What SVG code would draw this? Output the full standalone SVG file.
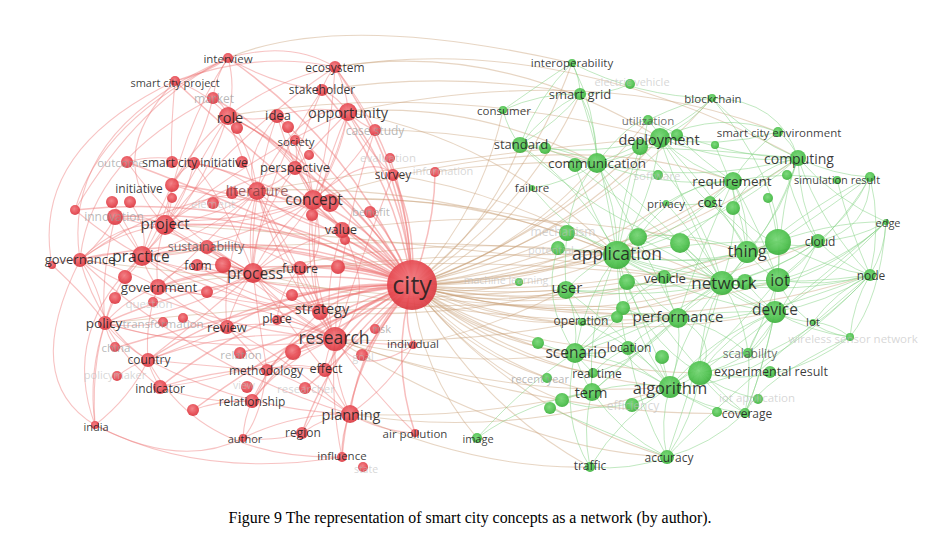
<svg xmlns="http://www.w3.org/2000/svg" width="925" height="547" viewBox="0 0 925 547">
<defs>
<radialGradient id="gr" cx="45%" cy="40%" r="60%"><stop offset="0" stop-color="#f27a80"/><stop offset="0.7" stop-color="#e5474f"/><stop offset="1" stop-color="#d83a42"/></radialGradient>
<radialGradient id="gg" cx="45%" cy="40%" r="60%"><stop offset="0" stop-color="#74d674"/><stop offset="0.7" stop-color="#4cc04c"/><stop offset="1" stop-color="#3cae3c"/></radialGradient>
<style>
text{font-family:"Open Sans","DejaVu Sans",sans-serif;text-anchor:middle;dominant-baseline:central;font-size:11.5px}
.r{fill:url(#gr);opacity:.92}
.g{fill:url(#gg);opacity:.92}
.t{fill:#1e1e1e;fill-opacity:.88}
.m{fill:#555;fill-opacity:.85}
.f{fill:#999;fill-opacity:.7}
.ff{fill:#bbb;fill-opacity:.6}
.lit{fill:#7a3a3a;fill-opacity:.75}
#er path{fill:none;stroke:#ee7a7a;stroke-opacity:.45;stroke-width:1.1}
#erc path{fill:none;stroke:#ee6e6e;stroke-opacity:.45;stroke-width:1.5}
#eg path{fill:none;stroke:#86d286;stroke-opacity:.52;stroke-width:1}
#ex path{fill:none;stroke:#c9a27a;stroke-opacity:.45;stroke-width:1.1}
.cap{font-family:"Liberation Serif","Times New Roman",serif;font-size:15.9px;fill:#000;text-anchor:middle;dominant-baseline:auto}
</style>
</defs>
<rect width="925" height="547" fill="#fff"/>
<g id="connectors">
<g id="ex">
<path d="M412 285Q518 299 617 255"/><path d="M412 285Q565 331 722 283"/><path d="M412 285Q584 318 747 252"/><path d="M412 285Q595 337 778 280"/><path d="M412 285Q588 352 775 312"/><path d="M412 285Q524 375 670 387"/><path d="M412 285Q539 340 678 318"/><path d="M412 285Q483 343 575 353"/><path d="M412 285Q521 251 597 163"/><path d="M412 285Q556 249 660 138"/><path d="M412 285Q623 280 798 158"/><path d="M412 285Q586 282 733 181"/><path d="M412 285Q488 310 566 290"/><path d="M412 285Q484 365 592 392"/><path d="M412 285Q538 320 664 277"/><path d="M412 285Q486 232 520 145"/><path d="M412 285Q485 254 532 188"/><path d="M412 285Q572 288 710 202"/><path d="M412 285Q620 325 818 241"/><path d="M412 285Q420 371 477 438"/><path d="M412 285Q473 402 590 467"/><path d="M412 285Q512 410 667 457"/><path d="M412 285Q482 211 503 110"/><path d="M412 285Q524 197 572 63"/><path d="M412 285Q524 215 580 94"/><path d="M412 285Q491 328 582 322"/><path d="M412 285Q511 349 628 348"/><path d="M412 285Q550 282 666 203"/><path d="M412 285Q642 348 870 275"/><path d="M412 285Q541 372 700 373"/><path d="M412 285Q464 298 519 282"/><path d="M412 285Q489 357 593 373"/><path d="M412 285Q589 237 712 98"/><path d="M412 285Q464 352 547 378"/><path d="M412 285Q554 238 648 120"/><path d="M412 285Q530 270 638 237"/><path d="M412 285Q550 275 680 243"/><path d="M412 285Q600 300 778 242"/><path d="M412 285Q520 300 627 282"/><path d="M412 285Q500 265 567 233"/><path d="M412 285Q490 275 558 248"/><path d="M412 285Q480 370 562 400"/><path d="M412 285Q470 330 538 343"/><path d="M412 285Q540 240 640 147"/>
<path d="M335 67Q500 40 660 138"/><path d="M348 112Q470 100 597 163"/><path d="M348 112Q500 140 617 255"/><path d="M313 200Q470 190 617 255"/><path d="M313 200Q520 190 722 283"/><path d="M257 191Q440 180 617 255"/><path d="M335 339Q530 350 722 283"/><path d="M335 339Q500 400 670 387"/><path d="M335 339Q460 370 575 353"/><path d="M253 273Q440 230 617 255"/><path d="M253 273Q480 250 722 283"/><path d="M320 312Q450 320 566 290"/><path d="M350 414Q510 440 670 387"/><path d="M350 414Q470 420 592 392"/><path d="M375 130Q480 130 597 163"/><path d="M393 175Q500 190 617 255"/><path d="M322 90Q450 70 580 94"/><path d="M228 116Q440 80 660 138"/><path d="M342 230Q540 200 747 252"/><path d="M142 256Q380 230 617 255"/><path d="M165 225Q440 240 722 283"/><path d="M413 345Q490 330 566 290"/><path d="M80 260Q400 300 678 318"/><path d="M435 172Q515 160 597 163"/><path d="M158 287Q390 250 617 255"/><path d="M105 323Q340 300 566 290"/><path d="M335 67Q560 30 798 158"/><path d="M348 112Q600 60 778 132"/><path d="M335 339Q520 450 667 457"/><path d="M350 414Q480 470 590 467"/><path d="M335 339Q560 420 745 413"/><path d="M253 273Q500 330 678 318"/><path d="M228 58Q340 10 572 63"/><path d="M313 200Q560 120 733 181"/><path d="M257 191Q500 150 660 138"/><path d="M320 312Q500 300 622 308"/>
</g>
<g id="er">
<path d="M142 256Q157 241 165 225"/><path d="M142 256Q110 249 80 260"/><path d="M142 256Q146 272 158 287"/><path d="M142 256Q115 283 105 323"/><path d="M142 256Q196 276 253 273"/><path d="M142 256Q207 235 257 191"/><path d="M142 256Q234 246 313 200"/><path d="M142 256Q124 231 115 217"/><path d="M142 256Q165 222 172 185"/><path d="M142 256Q175 257 207 247"/><path d="M165 225Q173 204 172 185"/><path d="M165 225Q139 213 115 217"/><path d="M165 225Q187 196 194 163"/><path d="M165 225Q215 218 257 191"/><path d="M165 225Q242 229 313 200"/><path d="M165 225Q204 259 253 273"/><path d="M165 225Q118 231 80 260"/><path d="M165 225Q154 254 158 287"/><path d="M257 191Q284 201 313 200"/><path d="M257 191Q252 150 228 116"/><path d="M257 191Q279 184 295 168"/><path d="M257 191Q246 231 253 273"/><path d="M257 191Q278 272 335 339"/><path d="M257 191Q229 168 194 163"/><path d="M313 200Q341 159 348 112"/><path d="M313 200Q308 181 295 168"/><path d="M313 200Q324 216 342 230"/><path d="M313 200Q275 228 253 273"/><path d="M313 200Q307 270 335 339"/><path d="M313 200Q303 255 320 312"/><path d="M313 200Q311 167 295 141"/><path d="M313 200Q305 153 277 116"/><path d="M253 273Q283 299 320 312"/><path d="M253 273Q287 314 335 339"/><path d="M253 273Q278 275 300 268"/><path d="M253 273Q235 296 227 327"/><path d="M253 273Q205 267 158 287"/><path d="M253 273Q226 262 197 265"/><path d="M335 339Q324 321 320 312"/><path d="M335 339Q296 345 267 370"/><path d="M335 339Q326 350 325 370"/><path d="M335 339Q333 376 350 414"/><path d="M335 339Q280 318 227 327"/><path d="M335 339Q286 358 252 401"/><path d="M335 339Q304 321 277 320"/><path d="M335 339Q239 325 148 360"/><path d="M158 287Q127 298 105 323"/><path d="M158 287Q145 321 148 360"/><path d="M158 287Q116 263 80 260"/><path d="M105 323Q123 345 148 360"/><path d="M105 323Q107 336 115 347"/><path d="M105 323Q134 329 163 322"/><path d="M105 323Q88 373 95 425"/><path d="M105 323Q125 361 160 387"/><path d="M105 323Q100 287 80 260"/><path d="M148 360Q151 373 160 387"/><path d="M160 387Q205 404 252 401"/><path d="M350 414Q324 417 302 433"/><path d="M350 414Q341 434 342 457"/><path d="M350 414Q380 431 415 433"/><path d="M350 414Q332 387 325 370"/><path d="M350 414Q303 381 267 370"/><path d="M350 414Q294 413 243 438"/><path d="M350 414Q390 386 413 345"/><path d="M252 401Q244 418 243 438"/><path d="M252 401Q263 387 267 370"/><path d="M348 112Q347 88 335 67"/><path d="M348 112Q338 97 322 90"/><path d="M348 112Q313 105 277 116"/><path d="M348 112Q360 124 375 130"/><path d="M348 112Q364 148 393 175"/><path d="M228 116Q236 86 228 58"/><path d="M228 116Q224 104 213 98"/><path d="M228 116Q253 122 277 116"/><path d="M228 116Q206 92 175 81"/><path d="M228 58Q216 75 213 98"/><path d="M228 58Q271 84 322 90"/><path d="M335 67Q326 77 322 90"/><path d="M335 67Q277 79 228 116"/><path d="M194 163Q159 153 127 162"/><path d="M194 163Q180 169 172 185"/><path d="M80 260Q103 241 115 217"/><path d="M80 260Q66 259 52 265"/><path d="M295 168Q298 154 295 141"/><path d="M295 168Q269 134 228 116"/><path d="M175 81Q204 75 228 58"/><path d="M325 370Q295 361 267 370"/><path d="M95 425Q130 398 148 360"/><path d="M243 438Q274 442 302 433"/><path d="M80 260Q198 328 335 339"/><path d="M105 323Q218 357 335 339"/><path d="M115 217Q216 230 313 200"/><path d="M105 323Q186 315 253 273"/><path d="M172 185Q241 207 313 200"/><path d="M80 260Q197 368 350 414"/><path d="M148 360Q243 410 350 414"/><path d="M127 162Q177 232 253 273"/><path d="M75 210Q110 240 142 256"/><path d="M52 265Q90 300 105 323"/><path d="M130 202Q150 230 142 256"/><path d="M112 202Q130 230 142 256"/><path d="M125 277Q135 270 142 256"/><path d="M223 265Q240 268 253 273"/><path d="M207 292Q230 285 253 273"/><path d="M183 318Q200 330 227 327"/><path d="M232 193Q245 190 257 191"/><path d="M312 215Q320 210 313 200"/><path d="M293 352Q310 345 335 339"/><path d="M193 410Q220 400 252 401"/><path d="M117 377Q130 365 148 360"/><path d="M228 116Q190 150 172 185"/><path d="M213 98Q200 150 172 185"/><path d="M175 81Q170 140 172 162"/><path d="M228 58Q180 130 165 225"/><path d="M335 67Q240 130 165 225"/><path d="M322 90Q260 180 253 273"/><path d="M348 112Q300 220 320 312"/><path d="M375 130Q340 230 335 339"/><path d="M393 175Q360 260 335 339"/><path d="M228 116Q260 220 335 339"/><path d="M277 116Q250 190 253 273"/><path d="M80 260Q60 130 228 58"/><path d="M80 260Q90 160 213 98"/><path d="M75 210Q140 100 228 58"/><path d="M95 425Q90 350 115 298"/>
<path d="M142 256Q200 300 227 327"/><path d="M142 256Q220 300 320 312"/><path d="M142 256Q240 290 335 339"/><path d="M165 225Q240 270 320 312"/><path d="M165 225Q200 160 228 116"/><path d="M165 225Q260 150 348 112"/><path d="M165 225Q230 180 295 168"/><path d="M165 225Q250 240 300 268"/><path d="M257 191Q300 230 342 230"/><path d="M257 191Q300 100 348 112"/><path d="M257 191Q220 260 227 327"/><path d="M257 191Q290 250 320 312"/><path d="M313 200Q330 150 335 67"/><path d="M313 200Q330 260 300 268"/><path d="M313 200Q370 150 393 175"/><path d="M313 200Q350 170 375 130"/><path d="M253 273Q300 240 342 230"/><path d="M253 273Q260 330 267 370"/><path d="M253 273Q300 340 325 370"/><path d="M253 273Q200 320 148 360"/><path d="M253 273Q180 230 115 217"/><path d="M335 339Q380 300 342 230"/><path d="M335 339Q260 290 207 247"/><path d="M335 339Q250 300 158 287"/><path d="M335 339Q230 380 160 387"/><path d="M335 339Q360 380 413 345"/><path d="M320 312Q290 290 300 268"/><path d="M320 312Q270 360 252 401"/><path d="M320 312Q250 300 197 265"/><path d="M158 287Q200 250 257 191"/><path d="M158 287Q200 320 227 327"/><path d="M158 287Q230 300 320 312"/><path d="M105 323Q190 350 227 327"/><path d="M80 260Q160 200 257 191"/><path d="M80 260Q120 220 165 225"/><path d="M80 260Q100 330 148 360"/><path d="M148 360Q200 340 227 327"/><path d="M148 360Q250 370 267 370"/><path d="M160 387Q250 360 325 370"/><path d="M350 414Q290 360 227 327"/><path d="M295 168Q330 130 348 112"/><path d="M295 168Q320 200 342 230"/><path d="M295 168Q250 230 253 273"/><path d="M228 116Q200 200 142 256"/><path d="M228 116Q300 150 313 200"/><path d="M277 116Q290 160 313 200"/><path d="M277 116Q240 160 257 191"/><path d="M322 90Q300 140 295 168"/><path d="M335 67Q360 100 375 130"/><path d="M194 163Q230 210 253 273"/><path d="M172 185Q150 230 142 256"/><path d="M115 217Q100 280 105 323"/><path d="M342 230Q320 300 335 339"/><path d="M300 268Q320 300 335 339"/><path d="M300 268Q280 290 277 320"/><path d="M207 247Q230 260 253 273"/><path d="M197 265Q170 270 158 287"/><path d="M227 327Q250 350 267 370"/><path d="M267 370Q260 420 243 438"/><path d="M302 433Q330 390 335 339"/><path d="M342 457Q330 400 335 339"/><path d="M415 433Q370 390 335 339"/><path d="M413 345Q380 345 335 339"/><path d="M80 260Q20 380 95 425"/><path d="M52 265Q30 150 175 81"/><path d="M75 210Q100 120 228 58"/><path d="M95 425Q180 470 243 438"/><path d="M95 425Q200 480 342 457"/><path d="M148 360Q200 460 342 457"/><path d="M228 58Q290 40 335 67"/><path d="M175 81Q260 50 335 67"/><path d="M142 256Q60 330 95 425"/><path d="M165 225Q100 160 175 81"/><path d="M253 273Q330 200 348 112"/>
</g>
<g id="erc">
<path d="M412 285Q364 299 335 339"/><path d="M412 285Q334 255 253 273"/><path d="M412 285Q374 227 313 200"/><path d="M412 285Q280 228 142 256"/><path d="M412 285Q296 217 165 225"/><path d="M412 285Q347 214 257 191"/><path d="M412 285Q360 284 320 312"/><path d="M412 285Q361 339 350 414"/><path d="M412 285Q405 189 348 112"/><path d="M412 285Q283 247 158 287"/><path d="M412 285Q344 173 228 116"/><path d="M412 285Q251 257 105 323"/><path d="M412 285Q248 222 80 260"/><path d="M412 285Q383 246 342 230"/><path d="M412 285Q369 209 295 168"/><path d="M412 285Q357 259 300 268"/><path d="M412 285Q312 278 227 327"/><path d="M412 285Q355 312 325 370"/><path d="M412 285Q268 282 148 360"/><path d="M412 285Q269 298 160 387"/><path d="M412 285Q314 319 252 401"/><path d="M412 285Q402 314 413 345"/><path d="M412 285Q333 342 302 433"/><path d="M412 285Q390 359 415 433"/><path d="M412 285Q272 205 115 217"/><path d="M412 285Q305 197 172 185"/><path d="M412 285Q404 165 335 67"/><path d="M412 285Q394 173 322 90"/><path d="M412 285Q417 227 393 175"/><path d="M412 285Q352 143 228 58"/><path d="M412 285Q324 306 267 370"/><path d="M412 285Q338 282 277 320"/><path d="M412 285Q314 235 207 247"/><path d="M412 285Q319 190 194 163"/><path d="M412 285Q350 360 342 457"/><path d="M412 285Q378 270 338 267"/><path d="M412 285Q350 285 292 295"/><path d="M412 285Q345 325 293 352"/><path d="M412 285Q380 330 362 355"/><path d="M412 285Q388 310 373 330"/><path d="M412 285Q385 255 345 240"/><path d="M412 285Q395 240 370 212"/><path d="M412 285Q410 200 375 130"/><path d="M412 285Q350 180 277 116"/><path d="M412 285Q410 215 390 158"/><path d="M412 285Q435 225 435 172"/><path d="M412 285Q270 190 75 210"/><path d="M412 285Q300 330 193 410"/><path d="M412 285Q240 310 115 348"/><path d="M412 285Q270 170 175 81"/><path d="M412 285Q290 140 213 98"/><path d="M412 285Q255 210 127 162"/><path d="M412 285Q300 300 197 265"/><path d="M412 285Q320 330 240 353"/><path d="M412 285Q340 360 305 388"/>
</g>
<g id="eg">
<path d="M617 255Q665 280 722 283"/><path d="M617 255Q683 267 747 252"/><path d="M617 255Q695 286 778 280"/><path d="M617 255Q689 300 775 312"/><path d="M617 255Q627 326 670 387"/><path d="M617 255Q640 292 678 318"/><path d="M617 255Q585 297 575 353"/><path d="M617 255Q618 206 597 163"/><path d="M617 255Q652 200 660 138"/><path d="M617 255Q719 227 798 158"/><path d="M617 255Q684 231 733 181"/><path d="M617 255Q588 264 566 290"/><path d="M617 255Q587 319 592 392"/><path d="M617 255Q638 272 664 277"/><path d="M617 255Q582 187 520 145"/><path d="M617 255Q719 271 818 241"/><path d="M617 255Q741 294 870 275"/><path d="M722 283Q738 270 747 252"/><path d="M722 283Q750 288 778 280"/><path d="M722 283Q745 303 775 312"/><path d="M722 283Q683 329 670 387"/><path d="M722 283Q695 294 678 318"/><path d="M722 283Q775 230 798 158"/><path d="M722 283Q739 233 733 181"/><path d="M722 283Q775 274 818 241"/><path d="M722 283Q797 296 870 275"/><path d="M722 283Q699 325 700 373"/><path d="M747 252Q760 269 778 280"/><path d="M747 252Q785 254 818 241"/><path d="M747 252Q785 210 798 158"/><path d="M747 252Q749 214 733 181"/><path d="M778 280Q773 295 775 312"/><path d="M778 280Q825 288 870 275"/><path d="M778 280Q804 265 818 241"/><path d="M778 280Q840 264 886 222"/><path d="M775 312Q793 321 813 322"/><path d="M775 312Q810 332 850 337"/><path d="M775 312Q827 303 870 275"/><path d="M775 312Q713 336 670 387"/><path d="M775 312Q756 328 748 353"/><path d="M775 312Q729 332 700 373"/><path d="M670 387Q685 384 700 373"/><path d="M670 387Q704 409 745 413"/><path d="M670 387Q659 422 667 457"/><path d="M670 387Q630 380 592 392"/><path d="M670 387Q682 352 678 318"/><path d="M670 387Q620 417 590 467"/><path d="M670 387Q619 357 575 353"/><path d="M678 318Q623 321 575 353"/><path d="M678 318Q650 326 628 348"/><path d="M678 318Q630 307 582 322"/><path d="M575 353Q579 372 592 392"/><path d="M575 353Q583 363 593 373"/><path d="M575 353Q603 355 628 348"/><path d="M575 353Q579 318 566 290"/><path d="M592 392Q621 434 667 457"/><path d="M592 392Q582 428 590 467"/><path d="M592 392Q528 401 477 438"/><path d="M667 457Q711 445 745 413"/><path d="M667 457Q693 419 700 373"/><path d="M597 163Q631 158 660 138"/><path d="M597 163Q557 145 520 145"/><path d="M597 163Q597 126 580 94"/><path d="M597 163Q596 110 572 63"/><path d="M597 163Q663 188 733 181"/><path d="M597 163Q699 185 798 158"/><path d="M660 138Q656 128 648 120"/><path d="M660 138Q691 124 712 98"/><path d="M660 138Q719 149 778 132"/><path d="M660 138Q727 165 798 158"/><path d="M660 138Q691 168 733 181"/><path d="M580 94Q580 78 572 63"/><path d="M580 94Q606 95 630 84"/><path d="M580 94Q540 93 503 110"/><path d="M580 94Q544 113 520 145"/><path d="M572 63Q638 97 712 98"/><path d="M572 63Q537 98 520 145"/><path d="M798 158Q792 142 778 132"/><path d="M798 158Q833 175 870 177"/><path d="M798 158Q835 200 886 222"/><path d="M798 158Q821 225 870 275"/><path d="M798 158Q799 202 818 241"/><path d="M733 181Q720 188 710 202"/><path d="M733 181Q697 183 666 203"/><path d="M818 241Q855 240 886 222"/><path d="M818 241Q840 264 870 275"/><path d="M870 275Q885 250 886 222"/><path d="M870 275Q836 291 813 322"/><path d="M870 275Q853 303 850 337"/><path d="M870 275Q882 225 870 177"/><path d="M700 373Q725 369 748 353"/><path d="M700 373Q717 399 745 413"/><path d="M566 290Q571 305 582 322"/><path d="M566 290Q617 295 664 277"/><path d="M664 277Q667 299 678 318"/><path d="M628 348Q609 356 593 373"/><path d="M532 188Q567 183 597 163"/><path d="M532 188Q567 231 617 255"/><path d="M503 110Q508 130 520 145"/><path d="M520 145Q591 158 660 138"/><path d="M666 203Q688 207 710 202"/><path d="M666 203Q636 222 617 255"/><path d="M778 132Q750 151 733 181"/><path d="M712 98Q749 138 798 158"/><path d="M648 120Q719 157 798 158"/><path d="M850 337Q834 324 813 322"/><path d="M590 467Q629 471 667 457"/><path d="M748 353Q717 326 678 318"/><path d="M593 373Q590 382 592 392"/><path d="M638 237Q690 230 747 252"/><path d="M680 243Q700 260 722 283"/><path d="M778 242Q760 250 747 252"/><path d="M778 242Q800 250 818 241"/><path d="M778 242Q780 260 778 280"/><path d="M627 282Q670 290 722 283"/><path d="M745 282Q760 300 775 312"/><path d="M623 308Q650 320 678 318"/><path d="M617 317Q600 340 575 353"/><path d="M538 343Q555 350 575 353"/><path d="M662 357Q665 372 670 387"/><path d="M562 400Q575 395 592 392"/><path d="M550 408Q600 430 667 457"/><path d="M640 147Q620 200 617 255"/><path d="M677 135Q700 160 733 181"/><path d="M545 148Q570 160 597 163"/><path d="M575 165Q590 210 617 255"/><path d="M715 145Q740 200 747 252"/><path d="M733 208Q760 240 778 242"/><path d="M768 198Q775 220 778 242"/><path d="M787 175Q800 220 818 241"/><path d="M870 177Q840 230 778 280"/><path d="M886 222Q820 290 775 312"/><path d="M870 275Q790 360 700 373"/><path d="M870 275Q760 390 670 387"/><path d="M850 337Q760 380 745 413"/><path d="M818 241Q780 320 748 353"/><path d="M567 233Q600 240 617 255"/><path d="M558 248Q590 250 617 255"/><path d="M632 405Q650 395 670 387"/><path d="M758 399Q720 390 700 373"/><path d="M717 412Q690 400 670 387"/><path d="M640 147Q700 200 722 283"/><path d="M680 243Q730 200 798 158"/><path d="M638 237Q680 180 733 181"/><path d="M575 165Q660 230 722 283"/><path d="M520 145Q600 220 680 243"/><path d="M712 98Q780 180 778 242"/><path d="M870 177Q830 260 722 283"/><path d="M886 222Q800 300 722 283"/><path d="M870 275Q730 330 678 318"/><path d="M886 222Q760 330 700 373"/><path d="M870 275Q700 420 667 457"/>
<path d="M617 255Q700 240 778 242"/><path d="M617 255Q600 150 580 94"/><path d="M617 255Q640 160 648 120"/><path d="M617 255Q620 330 628 348"/><path d="M617 255Q640 340 700 373"/><path d="M617 255Q680 360 745 413"/><path d="M722 283Q680 200 660 138"/><path d="M722 283Q660 220 597 163"/><path d="M722 283Q650 330 575 353"/><path d="M722 283Q700 360 667 457"/><path d="M722 283Q660 330 592 392"/><path d="M722 283Q760 340 745 413"/><path d="M722 283Q800 210 870 177"/><path d="M747 252Q720 200 660 138"/><path d="M747 252Q700 260 664 277"/><path d="M747 252Q830 220 886 222"/><path d="M778 280Q780 200 798 158"/><path d="M778 280Q760 330 748 353"/><path d="M778 280Q720 350 670 387"/><path d="M778 280Q800 330 850 337"/><path d="M775 312Q720 310 678 318"/><path d="M775 312Q760 380 745 413"/><path d="M670 387Q720 350 748 353"/><path d="M670 387Q620 360 628 348"/><path d="M670 387Q610 420 562 400"/><path d="M678 318Q720 340 700 373"/><path d="M678 318Q700 250 733 181"/><path d="M678 318Q640 240 597 163"/><path d="M575 353Q620 300 664 277"/><path d="M575 353Q540 300 558 248"/><path d="M592 392Q630 360 678 318"/><path d="M597 163Q680 130 712 98"/><path d="M597 163Q630 120 648 120"/><path d="M597 163Q560 200 566 290"/><path d="M660 138Q720 110 778 132"/><path d="M660 138Q700 200 710 202"/><path d="M798 158Q750 170 733 208"/><path d="M733 181Q790 170 837 180"/><path d="M733 181Q760 230 778 280"/><path d="M870 177Q870 230 818 241"/><path d="M837 180Q850 230 870 275"/><path d="M850 337Q880 300 886 222"/><path d="M700 373Q780 390 850 337"/><path d="M745 413Q760 380 775 312"/><path d="M667 457Q640 410 628 348"/><path d="M590 467Q560 420 575 353"/><path d="M477 438Q530 380 575 353"/><path d="M503 110Q560 70 572 63"/><path d="M520 145Q560 120 580 94"/><path d="M712 98Q780 100 798 158"/><path d="M648 120Q690 100 712 98"/><path d="M666 203Q700 240 722 283"/><path d="M710 202Q740 230 747 252"/><path d="M710 202Q760 240 778 280"/><path d="M566 290Q620 330 670 387"/><path d="M566 290Q650 300 722 283"/><path d="M582 322Q620 340 628 348"/><path d="M593 373Q640 360 678 318"/><path d="M628 348Q660 370 670 387"/><path d="M748 353Q770 340 775 312"/><path d="M640 147Q720 150 798 158"/><path d="M638 237Q720 280 775 312"/><path d="M680 243Q720 300 775 312"/><path d="M627 282Q650 340 670 387"/><path d="M778 242Q840 200 870 177"/><path d="M778 242Q830 270 870 275"/>
</g>
</g>
<g id="nodes">
<g id="u-red">
<circle class="r" cx="237" cy="128" r="6"/><circle class="r" cx="288" cy="127" r="6"/><circle class="r" cx="309" cy="155" r="5"/><circle class="r" cx="242" cy="162" r="6"/><circle class="r" cx="130" cy="202" r="6"/><circle class="r" cx="112" cy="202" r="6"/><circle class="r" cx="75" cy="210" r="5"/><circle class="r" cx="172" cy="198" r="5"/><circle class="r" cx="52" cy="265" r="4"/><circle class="r" cx="125" cy="277" r="7"/><circle class="r" cx="223" cy="265" r="8"/><circle class="r" cx="207" cy="292" r="6"/><circle class="r" cx="183" cy="318" r="5"/><circle class="r" cx="232" cy="193" r="6"/><circle class="r" cx="312" cy="215" r="6"/><circle class="r" cx="345" cy="240" r="5"/><circle class="r" cx="338" cy="267" r="7"/><circle class="r" cx="292" cy="295" r="6"/><circle class="r" cx="293" cy="352" r="8"/><circle class="r" cx="193" cy="410" r="6"/><circle class="r" cx="115" cy="298" r="6"/>
</g>
<g id="u-green">
<circle class="g" cx="638" cy="237" r="9"/><circle class="g" cx="680" cy="243" r="10"/><circle class="g" cx="778" cy="242" r="13"/><circle class="g" cx="627" cy="282" r="8"/><circle class="g" cx="745" cy="282" r="8"/><circle class="g" cx="623" cy="308" r="7"/><circle class="g" cx="617" cy="317" r="6"/><circle class="g" cx="538" cy="343" r="6"/><circle class="g" cx="662" cy="357" r="7"/><circle class="g" cx="562" cy="400" r="7"/><circle class="g" cx="550" cy="408" r="6"/><circle class="g" cx="640" cy="147" r="8"/><circle class="g" cx="677" cy="135" r="6"/><circle class="g" cx="545" cy="148" r="6"/><circle class="g" cx="575" cy="165" r="7"/><circle class="g" cx="715" cy="145" r="4"/><circle class="g" cx="733" cy="208" r="7"/><circle class="g" cx="768" cy="198" r="5"/><circle class="g" cx="787" cy="175" r="5"/><circle class="g" cx="870" cy="177" r="5"/><circle class="g" cx="717" cy="412" r="5"/><circle class="g" cx="770" cy="372" r="6"/>
</g>
<g id="n-information"><circle class="r" cx="435" cy="172" r="5"/><text class="ff" x="443" y="170" style="font-size:11px">information</text></g>
<g id="n-evaluation"><circle class="r" cx="390" cy="158" r="5"/><text class="ff" x="388" y="157">evaluation</text></g>
<g id="n-benefit"><circle class="r" cx="370" cy="212" r="6"/><text class="f" x="371" y="211">benefit</text></g>
<g id="n-element"><circle class="r" cx="213" cy="203" r="6"/><text class="ff" x="213" y="203">element</text></g>
<g id="n-innovation"><circle class="r" cx="115" cy="217" r="8"/><text class="f" x="114" y="216" style="font-size:12px">innovation</text></g>
<g id="n-question"><circle class="r" cx="153" cy="302" r="5"/><text class="ff" x="149" y="303">question</text></g>
<g id="n-transformation"><circle class="r" cx="163" cy="322" r="5"/><text class="f" x="163" y="323">transformation</text></g>
<g id="n-china"><circle class="r" cx="115" cy="347" r="5"/><text class="f" x="116" y="347">china</text></g>
<g id="n-relation"><circle class="r" cx="240" cy="353" r="6"/><text class="f" x="241" y="354">relation</text></g>
<g id="n-goal"><circle class="r" cx="362" cy="355" r="6"/><text class="ff" x="363" y="356" style="font-size:11px">goal</text></g>
<g id="n-policymaker"><circle class="r" cx="117" cy="376" r="5"/><text class="ff" x="115" y="374" style="font-size:11px">policymaker</text></g>
<g id="n-view"><circle class="r" cx="247" cy="387" r="6"/><text class="ff" x="244" y="385" style="font-size:10.5px">view</text></g>
<g id="n-researcher"><circle class="r" cx="305" cy="388" r="6"/><text class="ff" x="306" y="388">researcher</text></g>
<g id="n-risk"><circle class="r" cx="375" cy="329" r="5"/><text class="f" x="382" y="328" style="font-size:11px">risk</text></g>
<g id="n-state"><circle class="r" cx="363" cy="467" r="5"/><text class="ff" x="366" y="469" style="font-size:10.5px" fill-opacity=".35">state</text></g>
<g id="n-outcome"><circle class="r" cx="127" cy="162" r="6"/><text class="f" x="121" y="162">outcome</text></g>
<g id="n-smart-city-project"><circle class="r" cx="175" cy="81" r="5"/><text class="t" x="175" y="82" style="font-size:11px">smart city project</text></g>
<g id="n-interview"><circle class="r" cx="228" cy="58" r="5"/><text class="t" x="228" y="58" style="font-size:11.5px">interview</text></g>
<g id="n-market"><circle class="r" cx="213" cy="98" r="6"/><text class="f" x="214" y="98" style="font-size:12px">market</text></g>
<g id="n-ecosystem"><circle class="r" cx="335" cy="67" r="6"/><text class="t" x="335" y="67" style="font-size:12px">ecosystem</text></g>
<g id="n-stakeholder"><circle class="r" cx="322" cy="90" r="6"/><text class="t" x="322" y="89" style="font-size:12px">stakeholder</text></g>
<g id="n-case-study"><circle class="r" cx="375" cy="130" r="6"/><text class="f" x="375" y="130" style="font-size:12px">case study</text></g>
<g id="n-society"><circle class="r" cx="295" cy="140" r="5"/><text class="t" x="296" y="141">society</text></g>
<g id="n-survey"><circle class="r" cx="393" cy="175" r="6"/><text class="t" x="393" y="174" style="font-size:12px">survey</text></g>
<g id="n-idea"><circle class="r" cx="277" cy="116" r="7"/><text class="t" x="278" y="115" style="font-size:13px">idea</text></g>
<g id="n-role"><circle class="r" cx="228" cy="116" r="9"/><text class="t" x="230" y="117" style="font-size:14.5px">role</text></g>
<g id="n-opportunity"><circle class="r" cx="348" cy="112" r="9"/><text class="t" x="348" y="112" style="font-size:14.5px">opportunity</text></g>
<g id="n-perspective"><circle class="r" cx="295" cy="168" r="7"/><text class="t" x="295" y="167" style="font-size:13px">perspective</text></g>
<g id="n-smart-city-initiative"><circle class="r" cx="172" cy="162" r="6"/><circle class="r" cx="194" cy="163" r="6"/><text class="t" x="195" y="162" style="font-size:12px">smart city initiative</text></g>
<g id="n-initiative"><circle class="r" cx="172" cy="185" r="7"/><text class="t" x="139" y="188" style="font-size:12px">initiative</text></g>
<g id="n-literature"><circle class="r" cx="257" cy="191" r="9"/><text class="lit" x="257" y="190" style="font-size:14.5px">literature</text></g>
<g id="n-concept"><circle class="r" cx="313" cy="200" r="10"/><circle class="r" cx="330" cy="203" r="9"/><text class="t" x="314" y="199" style="font-size:15.5px">concept</text></g>
<g id="n-value"><circle class="r" cx="342" cy="230" r="8"/><text class="t" x="341" y="229" style="font-size:13px">value</text></g>
<g id="n-project"><circle class="r" cx="165" cy="225" r="10"/><text class="t" x="165" y="223" style="font-size:15px">project</text></g>
<g id="n-sustainability"><circle class="r" cx="207" cy="247" r="7"/><text class="m" x="206" y="246" style="font-size:12.5px">sustainability</text></g>
<g id="n-governance"><circle class="r" cx="80" cy="260" r="7"/><text class="t" x="80" y="259" style="font-size:13px">governance</text></g>
<g id="n-practice"><circle class="r" cx="142" cy="256" r="10"/><text class="t" x="141" y="256" style="font-size:15.5px">practice</text></g>
<g id="n-form"><circle class="r" cx="197" cy="265" r="6"/><text class="t" x="198" y="265" style="font-size:12px">form</text></g>
<g id="n-process"><circle class="r" cx="253" cy="273" r="10"/><text class="t" x="255" y="273" style="font-size:15.5px">process</text></g>
<g id="n-future"><circle class="r" cx="300" cy="268" r="7"/><text class="t" x="300" y="268" style="font-size:12.5px">future</text></g>
<g id="n-government"><circle class="r" cx="158" cy="287" r="8"/><text class="t" x="159" y="287" style="font-size:13.5px">government</text></g>
<g id="n-policy"><circle class="r" cx="105" cy="323" r="7"/><text class="t" x="104" y="323" style="font-size:13.5px">policy</text></g>
<g id="n-review"><circle class="r" cx="227" cy="327" r="7"/><text class="t" x="227" y="327" style="font-size:13px">review</text></g>
<g id="n-place"><circle class="r" cx="277" cy="320" r="5"/><text class="t" x="277" y="318" style="font-size:12px">place</text></g>
<g id="n-strategy"><circle class="r" cx="320" cy="312" r="8"/><text class="t" x="322" y="308" style="font-size:14.5px">strategy</text></g>
<g id="n-research"><circle class="r" cx="335" cy="339" r="12"/><text class="t" x="334" y="337" style="font-size:17.5px">research</text></g>
<g id="n-individual"><circle class="r" cx="413" cy="345" r="4"/><text class="t" x="413" y="343">individual</text></g>
<g id="n-country"><circle class="r" cx="148" cy="360" r="7"/><text class="t" x="149" y="359" style="font-size:12px">country</text></g>
<g id="n-methodology"><circle class="r" cx="267" cy="370" r="6"/><text class="t" x="266" y="370" style="font-size:12px">methodology</text></g>
<g id="n-effect"><circle class="r" cx="325" cy="370" r="7"/><text class="t" x="326" y="368" style="font-size:12.5px">effect</text></g>
<g id="n-indicator"><circle class="r" cx="160" cy="387" r="7"/><text class="t" x="160" y="388" style="font-size:12px">indicator</text></g>
<g id="n-relationship"><circle class="r" cx="252" cy="401" r="7"/><text class="t" x="252" y="401" style="font-size:12px">relationship</text></g>
<g id="n-planning"><circle class="r" cx="350" cy="414" r="9"/><text class="t" x="351" y="414" style="font-size:14.5px">planning</text></g>
<g id="n-india"><circle class="r" cx="95" cy="425" r="4"/><text class="t" x="96" y="426" style="font-size:11px">india</text></g>
<g id="n-author"><circle class="r" cx="243" cy="438" r="4"/><text class="t" x="245" y="438" style="font-size:11px">author</text></g>
<g id="n-region"><circle class="r" cx="302" cy="433" r="6"/><text class="t" x="303" y="432" style="font-size:12px">region</text></g>
<g id="n-air-pollution"><circle class="r" cx="415" cy="433" r="4"/><text class="t" x="415" y="433">air pollution</text></g>
<g id="n-influence"><circle class="r" cx="342" cy="457" r="5"/><text class="t" x="342" y="455">influence</text></g>
<g id="n-city"><circle class="r" cx="412" cy="285" r="25"/><text class="t" x="412" y="284" style="font-size:25px">city</text></g>
<g id="n-electric-vehicle"><circle class="g" cx="630" cy="84" r="5"/><text class="ff" x="632" y="81" style="font-size:11px">electric vehicle</text></g>
<g id="n-software"><circle class="g" cx="658" cy="175" r="5"/><text class="ff" x="657" y="175">software</text></g>
<g id="n-mechanism"><circle class="g" cx="567" cy="233" r="8"/><text class="ff" x="563" y="231" style="font-size:12px">mechanism</text></g>
<g id="n-potential"><circle class="g" cx="558" cy="248" r="7"/><text class="ff" x="551" y="249" style="font-size:11px">potential</text></g>
<g id="n-machine-learning"><circle class="g" cx="519" cy="282" r="4"/><text class="ff" x="506" y="280" style="font-size:10.5px">machine learning</text></g>
<g id="n-wireless-sensor-network"><circle class="g" cx="850" cy="337" r="4"/><text class="ff" x="853" y="338">wireless sensor network</text></g>
<g id="n-recent-year"><circle class="g" cx="547" cy="378" r="5"/><text class="f" x="540" y="378" style="font-size:11px">recent year</text></g>
<g id="n-efficiency"><circle class="g" cx="632" cy="405" r="7"/><text class="ff" x="633" y="405" style="font-size:12px">efficiency</text></g>
<g id="n-iot-application"><circle class="g" cx="758" cy="399" r="5"/><text class="ff" x="757" y="397" style="font-size:11.5px">iot application</text></g>
<g id="n-interoperability"><circle class="g" cx="572" cy="63" r="4"/><text class="t" x="572" y="62">interoperability</text></g>
<g id="n-smart-grid"><circle class="g" cx="580" cy="94" r="6"/><text class="t" x="580" y="94" style="font-size:13px">smart grid</text></g>
<g id="n-consumer"><circle class="g" cx="503" cy="110" r="4"/><text class="t" x="504" y="110">consumer</text></g>
<g id="n-blockchain"><circle class="g" cx="712" cy="98" r="4"/><text class="t" x="713" y="98">blockchain</text></g>
<g id="n-utilization"><circle class="g" cx="648" cy="120" r="5"/><text class="m" x="648" y="120">utilization</text></g>
<g id="n-smart-city-environment"><circle class="g" cx="778" cy="132" r="5"/><text class="t" x="779" y="132">smart city environment</text></g>
<g id="n-standard"><circle class="g" cx="520" cy="145" r="8"/><text class="t" x="521" y="144" style="font-size:13px">standard</text></g>
<g id="n-deployment"><circle class="g" cx="660" cy="138" r="10"/><text class="t" x="659" y="139" style="font-size:14.5px">deployment</text></g>
<g id="n-communication"><circle class="g" cx="597" cy="163" r="10"/><text class="t" x="597" y="163" style="font-size:13.5px">communication</text></g>
<g id="n-computing"><circle class="g" cx="798" cy="158" r="8"/><text class="t" x="799" y="158" style="font-size:14px">computing</text></g>
<g id="n-simulation-result"><circle class="g" cx="837" cy="180" r="4"/><text class="t" x="837" y="179" style="font-size:11px">simulation result</text></g>
<g id="n-requirement"><circle class="g" cx="733" cy="181" r="9"/><text class="t" x="732" y="181" style="font-size:13.5px">requirement</text></g>
<g id="n-failure"><circle class="g" cx="532" cy="188" r="3"/><text class="t" x="532" y="187">failure</text></g>
<g id="n-privacy"><circle class="g" cx="666" cy="203" r="3"/><text class="t" x="666" y="203">privacy</text></g>
<g id="n-cost"><circle class="g" cx="710" cy="202" r="6"/><text class="t" x="710" y="202" style="font-size:13px">cost</text></g>
<g id="n-edge"><circle class="g" cx="886" cy="222" r="3"/><text class="t" x="888" y="222" style="font-size:11px">edge</text></g>
<g id="n-cloud"><circle class="g" cx="818" cy="241" r="7"/><text class="t" x="820" y="241" style="font-size:12px">cloud</text></g>
<g id="n-node"><circle class="g" cx="870" cy="275" r="6"/><text class="t" x="871" y="275" style="font-size:12px">node</text></g>
<g id="n-lot"><circle class="g" cx="813" cy="322" r="3"/><text class="t" x="813" y="321" style="font-size:11.5px">lot</text></g>
<g id="n-operation"><circle class="g" cx="582" cy="322" r="4"/><text class="t" x="581" y="320" style="font-size:12px">operation</text></g>
<g id="n-vehicle"><circle class="g" cx="664" cy="277" r="7"/><text class="t" x="665" y="278" style="font-size:13px">vehicle</text></g>
<g id="n-user"><circle class="g" cx="566" cy="290" r="9"/><text class="t" x="567" y="287" style="font-size:15px">user</text></g>
<g id="n-location"><circle class="g" cx="628" cy="348" r="7"/><text class="t" x="629" y="347" style="font-size:12px">location</text></g>
<g id="n-scalability"><circle class="g" cx="748" cy="353" r="5"/><text class="m" x="750" y="353" style="font-size:12px">scalability</text></g>
<g id="n-real-time"><circle class="g" cx="593" cy="373" r="5"/><text class="t" x="597" y="373" style="font-size:12px">real time</text></g>
<g id="n-experimental-result"><circle class="g" cx="700" cy="373" r="12"/><text class="t" x="771" y="371" style="font-size:12.5px">experimental result</text></g>
<g id="n-coverage"><circle class="g" cx="745" cy="413" r="5"/><text class="t" x="747" y="413" style="font-size:12px">coverage</text></g>
<g id="n-traffic"><circle class="g" cx="590" cy="467" r="5"/><text class="t" x="590" y="465" style="font-size:12px">traffic</text></g>
<g id="n-accuracy"><circle class="g" cx="667" cy="457" r="7"/><text class="t" x="669" y="457" style="font-size:12px">accuracy</text></g>
<g id="n-image"><circle class="g" cx="477" cy="438" r="5"/><text class="t" x="478" y="438" style="font-size:11px">image</text></g>
<g id="n-term"><circle class="g" cx="592" cy="392" r="9"/><text class="t" x="591" y="392" style="font-size:14.5px">term</text></g>
<g id="n-scenario"><circle class="g" cx="575" cy="353" r="10"/><text class="t" x="576" y="352" style="font-size:15.5px">scenario</text></g>
<g id="n-performance"><circle class="g" cx="678" cy="318" r="10"/><text class="t" x="678" y="316" style="font-size:15px">performance</text></g>
<g id="n-algorithm"><circle class="g" cx="670" cy="387" r="11"/><text class="t" x="670" y="387" style="font-size:16.5px">algorithm</text></g>
<g id="n-thing"><circle class="g" cx="747" cy="252" r="11"/><text class="t" x="747" y="250" style="font-size:16.5px">thing</text></g>
<g id="n-iot"><circle class="g" cx="778" cy="280" r="12"/><text class="t" x="780" y="280" style="font-size:16px">iot</text></g>
<g id="n-device"><circle class="g" cx="775" cy="312" r="11"/><text class="t" x="775" y="309" style="font-size:15.5px">device</text></g>
<g id="n-network"><circle class="g" cx="722" cy="283" r="12"/><text class="t" x="724" y="282" style="font-size:17px">network</text></g>
<g id="n-application"><circle class="g" cx="617" cy="255" r="14"/><text class="t" x="617" y="253" style="font-size:17.5px">application</text></g>
</g>
<text class="cap" x="470" y="523">Figure 9 The representation of smart city concepts as a network (by author).</text>
</svg>
